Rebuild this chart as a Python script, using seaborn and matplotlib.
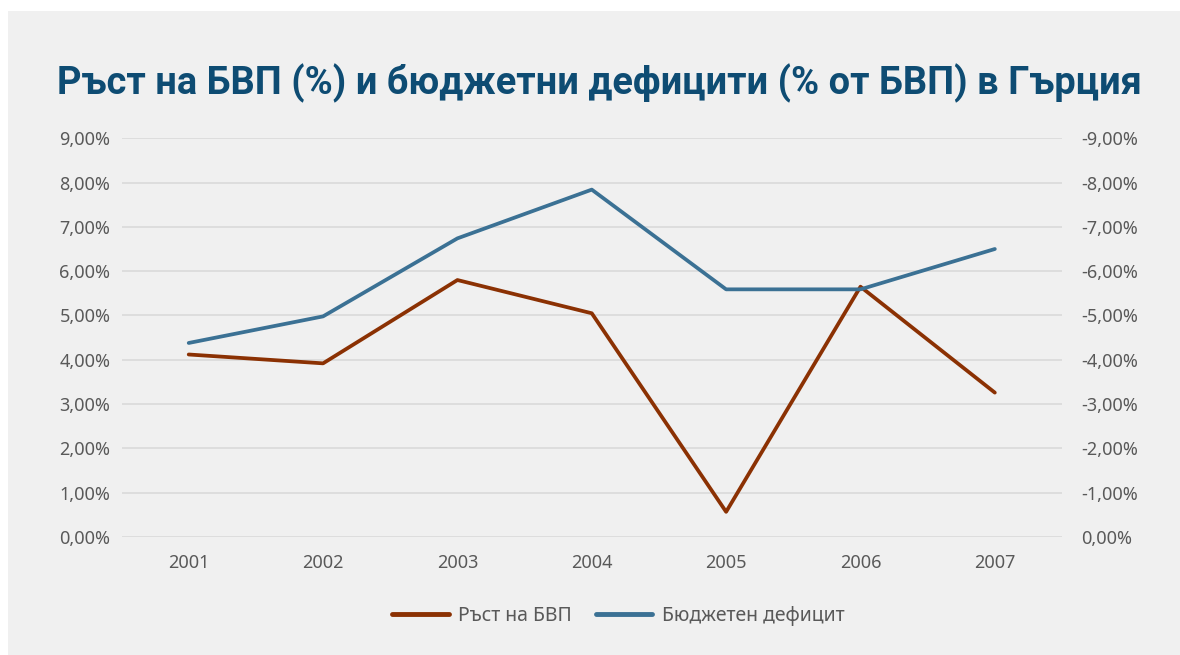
import matplotlib.pyplot as plt
import matplotlib.patches as mpatches
import pandas as pd
import seaborn as sns
from matplotlib.lines import Line2D

years = ["2001", "2002", "2003", "2004", "2005", "2006", "2007"]
gdp_growth = [4.12, 3.92, 5.80, 5.05, 0.57, 5.65, 3.26]
budget_deficit = [-4.38, -4.98, -6.74, -7.84, -5.59, -5.59, -6.50]

title = "Ръст на БВП (%) и бюджетни дефицити (% от БВП) в Гърция"
gdp_label = "Ръст на БВП"
deficit_label = "Бюджетен дефицит"

brown = "#8B3103"
blue = "#3B7194"
bg = "#F0F0F0"
text_grey = "#595959"

sns.set_theme(style="white")
plt.rcParams["font.family"] = ["Noto Sans", "DejaVu Sans"]

df = pd.DataFrame({"Year": years, "GDP": gdp_growth, "Deficit": budget_deficit})

fig = plt.figure(figsize=(11.8, 6.55), dpi=100, facecolor="white")
fig.patches.append(
    mpatches.Rectangle((8 / 1180, 0), 1, 1 - 11 / 655, transform=fig.transFigure,
                       facecolor=bg, edgecolor="none", zorder=-10)
)
ax = fig.add_axes([0.103, 0.180, 0.797, 0.609])
ax.set_facecolor("none")

sns.lineplot(data=df, x="Year", y="GDP", ax=ax, color=brown, linewidth=2.7,
             sort=False, zorder=3)
ax2 = ax.twinx()
sns.lineplot(data=df, x="Year", y="Deficit", ax=ax2, color=blue, linewidth=2.7,
             sort=False, zorder=3)

ax.set_ylim(0, 9)
ax2.set_ylim(0, -9)
ax.set_xlim(-0.5, 6.5)
ax.set_yticks(range(0, 10))
ax2.set_yticks([-v for v in range(0, 10)])
ax.set_yticklabels([f"{v},00%" for v in range(0, 10)])
ax2.set_yticklabels(["0,00%"] + [f"-{v},00%" for v in range(1, 10)])

ax.yaxis.grid(True, color="#DADADA", linewidth=1.2)
ax.set_axisbelow(True)
for a in (ax, ax2):
    for s in a.spines.values():
        s.set_visible(False)
    a.set_xlabel("")
    a.set_ylabel("")
    a.tick_params(axis="both", length=0, labelsize=13, colors=text_grey)
ax.tick_params(axis="y", pad=8)
ax2.tick_params(axis="y", pad=14)
ax.tick_params(axis="x", pad=12)

fig.text(0.508, 0.873, title, ha="center", va="center", fontsize=27.4,
         fontweight="bold", color="#0E4C73", family=["Roboto", "DejaVu Sans"])

handles = [Line2D([0], [0], color=brown, linewidth=3.5, solid_capstyle="round"),
           Line2D([0], [0], color=blue, linewidth=3.5, solid_capstyle="round")]
fig.legend(handles, [gdp_label, deficit_label], loc="center",
           bbox_to_anchor=(0.524, 0.06), ncol=2, frameon=False, fontsize=14,
           labelcolor=text_grey, handlelength=2.9, handletextpad=0.5,
           columnspacing=1.2)

fig.savefig("out.png", dpi=100, facecolor=fig.get_facecolor())
